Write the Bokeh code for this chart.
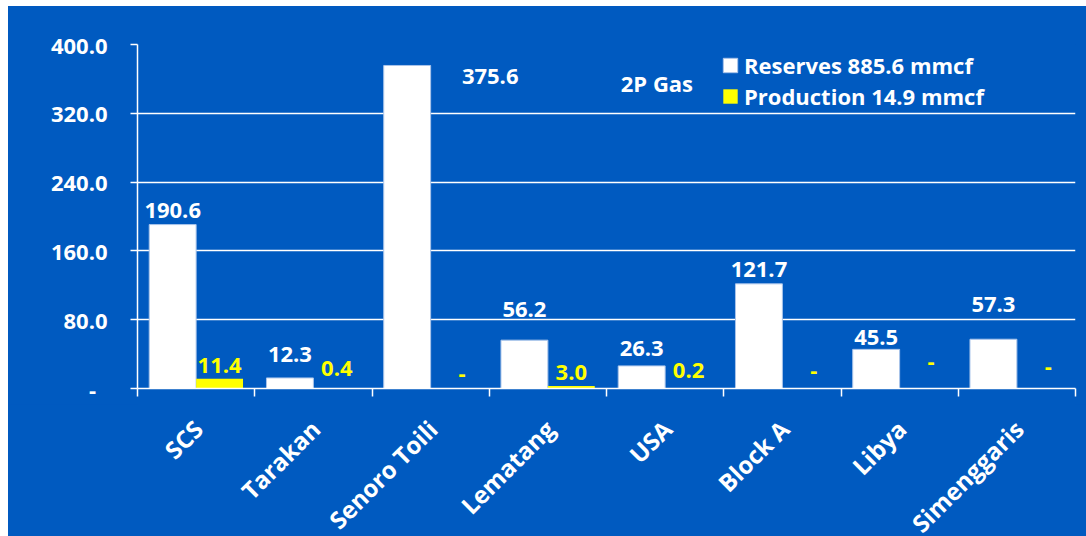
import math
from bokeh.plotting import figure
from bokeh.layouts import column
from bokeh.models import (ColumnDataSource, FixedTicker, PrintfTickFormatter,
                          Legend, LegendItem, Label, Range1d)
from bokeh.core.properties import value
from bokeh.embed import file_html
from bokeh.resources import INLINE

# ---- data ----
categories = ["SCS", "Tarakan", "Senoro Toili", "Lematang", "USA", "Block A", "Libya", "Simenggaris"]
reserves = [190.6, 12.3, 375.6, 56.2, 26.3, 121.7, 45.5, 57.3]
production = [11.4, 0.4, 0.0, 3.0, 0.2, 0.0, 0.0, 0.0]
y_ticks = [0, 80, 160, 240, 320, 400]
legend_labels = ["Reserves 885.6 mmcf", "Production 14.9 mmcf"]
chart_note = "2P Gas"

# ---- label placement nudges (pixels; style only) ----
res_label_gap = [6, 15, -19, 23, 9, 6, 4, 27]
res_label_dx = [0, 0, 83, 0, 0, 0, 0, 0]
prod_label_gap = [5, 12, 7, 5, 10, 10, 19, 14]
BASE_FIX = 8

BLUE = "#005AC0"
YELLOW = "#FFFF00"
FONT = "Open Sans"
FS = "22px"

n = len(categories)
centers = [i + 0.5 for i in range(n)]
src = ColumnDataSource(dict(
    xr=[c - 0.2 for c in centers],
    xp=[c + 0.2 for c in centers],
    res=reserves,
    prod=production,
    res_txt=["%.1f" % v for v in reserves],
    prod_txt=[("%.1f" % v) if v > 0 else "-" for v in production],
    res_dy=[-(g + BASE_FIX) for g in res_label_gap],
    res_dx=res_label_dx,
    prod_dy=[-(g + BASE_FIX) for g in prod_label_gap],
    prod_dx=[0 if v > 0 else 8 for v in production],
))
cat_src = ColumnDataSource(dict(x=centers, y=[0] * n, name=categories))

x_range = Range1d(0, n)

p = figure(width=1078, height=398, output_backend="svg", toolbar_location=None,
           x_range=x_range, y_range=Range1d(0, 400),
           min_border_left=129, min_border_right=11, min_border_top=38, min_border_bottom=16,
           background_fill_color=BLUE, border_fill_color=BLUE, outline_line_color=None)
p.margin = 0

r_res = p.vbar(x="xr", top="res", width=0.4, bottom=0, source=src,
               fill_color="white", line_color="#A9C4EA", line_width=1)
r_prod = p.vbar(x="xp", top="prod", width=0.4, bottom=0, source=src,
                fill_color=YELLOW, line_color=None)

p.text(x="xr", y="res", text="res_txt", source=src, x_offset="res_dx", y_offset="res_dy",
       text_align="center", text_baseline="alphabetic", text_color="white",
       text_font=value(FONT), text_font_style="bold", text_font_size=FS)
p.text(x="xp", y="prod", text="prod_txt", source=src, x_offset="prod_dx", y_offset="prod_dy",
       text_align="center", text_baseline="alphabetic", text_color=YELLOW,
       text_font=value(FONT), text_font_style="bold", text_font_size=FS)

# grid
p.xgrid.grid_line_color = None
p.ygrid.ticker = FixedTicker(ticks=y_ticks)
p.ygrid.grid_line_color = "white"
p.ygrid.grid_line_width = 1.5

# y axis
ya = p.yaxis[0]
ya.ticker = FixedTicker(ticks=y_ticks)
ya.formatter = PrintfTickFormatter(format="%.1f")
ya.major_label_overrides = {0: "-\u00a0\u00a0"}
ya.axis_line_color = "white"
ya.axis_line_width = 1.5
ya.major_tick_line_color = "white"
ya.major_tick_line_width = 1.5
ya.major_tick_out = 7
ya.major_tick_in = 0
ya.minor_tick_line_color = None
ya.major_label_standoff = 23
ya.major_label_text_color = "white"
ya.major_label_text_font = FONT
ya.major_label_text_font_style = "bold"
ya.major_label_text_font_size = FS

# x axis: boundary ticks only; category names drawn in the strip below
xa = p.xaxis[0]
xa.ticker = FixedTicker(ticks=[], minor_ticks=list(range(n + 1)))
xa.axis_line_color = "white"
xa.axis_line_width = 1.5
xa.major_tick_line_color = None
xa.major_tick_out = 0
xa.major_tick_in = 0
xa.minor_tick_line_color = "white"
xa.minor_tick_line_width = 1.5
xa.minor_tick_out = 8
xa.minor_tick_in = 0
xa.major_label_text_font_size = "0px"

# legend
legend = Legend(items=[LegendItem(label=legend_labels[0], renderers=[r_res]),
                       LegendItem(label=legend_labels[1], renderers=[r_prod])],
                location=(584, 277), orientation="vertical",
                background_fill_alpha=0, border_line_alpha=0,
                padding=0, margin=0, spacing=1,
                glyph_width=18, glyph_height=18, label_height=18, label_standoff=5,
                label_text_color="white", label_text_font=FONT,
                label_text_font_style="bold", label_text_font_size=FS)
p.add_layout(legend)

p.add_layout(Label(x=4.43, y=355.8, text=chart_note, text_align="center", text_baseline="middle",
                   text_color="white", text_font=FONT, text_font_style="bold",
                   text_font_size=FS))

# category label strip (shares the x scale with the chart)
q = figure(width=1078, height=132, output_backend="svg", toolbar_location=None,
           x_range=x_range, y_range=Range1d(-132, 0),
           x_axis_location=None, y_axis_location=None,
           min_border_left=129, min_border_right=11, min_border_top=0, min_border_bottom=0,
           background_fill_color=None, border_fill_color=BLUE, outline_line_color=None)
q.margin = 0
q.grid.grid_line_color = None
q.text(x="x", y="y", text="name", source=cat_src, angle=math.pi / 4,
       text_align="right", text_baseline="middle", x_offset=2, y_offset=20,
       text_color="white", text_font=value(FONT), text_font_style="bold",
       text_font_size="24px")

layout = column(p, q, spacing=0, margin=(6, 0, 0, 8),
                styles={"background-color": BLUE})
open("out.html", "w").write(file_html(layout, INLINE))
